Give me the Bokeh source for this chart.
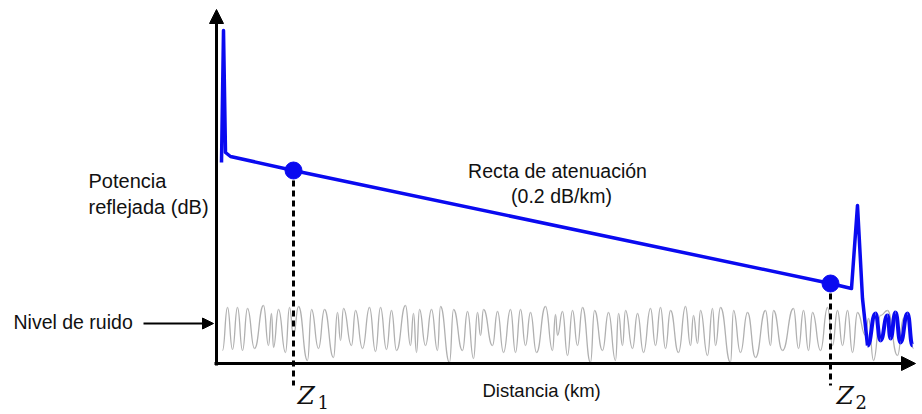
from bokeh.plotting import figure
from bokeh.models import Range1d, Label, Arrow, NormalHead, ColumnDataSource
from bokeh.embed import file_html
from bokeh.resources import INLINE

# ---- data (distance units along x, reflected power units along y) ----
trace_x = [5, 7, 9, 14, 77, 614, 635, 641, 646, 651]
trace_y = [201, 333, 211, 207, 193, 80, 75, 158, 65, 18]

tail_x = [651, 659, 664, 671, 674, 679, 684, 691, 696]
tail_y = [18, 50, 23, 48, 25, 51, 21, 50, 18]

points_x = [77, 614]
points_y = [193, 80]
point_names = ["Z1", "Z2"]

noise_x = [6, 11, 16, 21, 26, 31, 38, 47, 52, 55, 57, 62, 69, 73, 77, 82, 91, 95, 102, 108,
           117, 121, 124, 127, 135, 139, 146, 153, 159, 164, 170, 175, 180, 189, 194, 197, 200,
           203, 209, 215, 221, 224, 233, 237, 246, 251, 257, 261, 264, 267, 276, 281, 287, 294,
           299, 304, 309, 314, 320, 329, 336, 339, 341, 346, 351, 356, 361, 366, 374, 378, 386,
           392, 399, 402, 406, 409, 416, 421, 427, 434, 439, 444, 449, 454, 462, 469, 474, 477,
           481, 484, 491, 496, 499, 504, 514, 517, 524, 531, 539, 549, 554, 557, 566, 577, 582,
           587, 592, 596, 604, 611, 616, 621, 626, 631, 636, 641, 649, 652, 657, 664, 671, 681,
           687, 691, 697]
noise_y = [13, 56, 14, 56, 13, 55, 15, 58, 18, 50, 16, 54, 11, 56, 28, 57, 3, 54, 15, 54,
           6, 51, 23, 55, 18, 53, 15, 56, 12, 56, 14, 53, 13, 58, 18, 50, 11,
           54, 18, 54, 13, 57, 1, 54, 13, 52, 5, 51, 28, 54, 18, 52, 11, 54,
           11, 54, 18, 51, 11, 57, 13, 49, 28, 52, 8, 53, 18, 56, 1, 53, 13,
           51, 3, 50, 18, 53, 15, 50, 11, 55, 18, 56, 15, 53, 11, 57, 18, 48,
           20, 53, 8, 55, 18, 56, 1, 53, 11, 51, 6, 53, 18, 53, 13, 55, 15,
           53, 13, 51, 13, 56, 18, 53, 18, 53, 11, 51, 28, 45, 3, 48, 53, 8,
           45, 51, 15]

x_axis_end = 699
y_axis_end = 354
drop_to = -22

# ---- figure ----
p = figure(width=922, height=414, x_range=Range1d(-216, 706), y_range=Range1d(-51, 363),
           x_axis_type=None, y_axis_type=None, toolbar_location=None,
           output_backend="svg", min_border=0)
p.grid.visible = False
p.outline_line_color = None
p.background_fill_color = "white"
p.border_fill_color = "white"


def smooth(xs, ys, **kw):
    x0 = xs[:-1]; x1 = xs[1:]
    y0 = ys[:-1]; y1 = ys[1:]
    cxm = [(a + b) / 2 for a, b in zip(x0, x1)]
    p.bezier(x0=x0, y0=y0, x1=x1, y1=y1, cx0=cxm, cy0=y0, cx1=cxm, cy1=y1, **kw)


# noise
smooth(noise_x, noise_y, line_color="#b0b0b0", line_width=1.3)

# dashed drops
for px, py in zip(points_x, points_y):
    p.segment(x0=[px], y0=[py], x1=[px], y1=[drop_to], line_color="black",
              line_width=3, line_dash="6 4")

# trace
blue = "#0a0af0"
p.line(trace_x, trace_y, line_color=blue, line_width=3.5, line_join="round")
smooth(tail_x, tail_y, line_color=blue, line_width=4)
src = ColumnDataSource(dict(x=points_x, y=points_y, name=point_names))
p.scatter("x", "y", source=src, size=17, fill_color=blue, line_color=blue)

# axes with arrows
p.add_layout(Arrow(end=NormalHead(size=14, fill_color="black", line_color="black"),
                   x_start=0, y_start=-2, x_end=0, y_end=y_axis_end, line_width=3,
                   line_color="black"))
p.add_layout(Arrow(end=NormalHead(size=14, fill_color="black", line_color="black"),
                   x_start=-2, y_start=0, x_end=x_axis_end, y_end=0, line_width=3,
                   line_color="black"))
p.add_layout(Arrow(end=NormalHead(size=11, fill_color="black", line_color="black"),
                   x_start=-73, y_start=40, x_end=-3, y_end=40, line_width=2,
                   line_color="black"))

font = "Liberation Sans"
tc = "#111111"

def lab(x, y, t, align="left", size="19.5px", f=font, style="normal"):
    p.add_layout(Label(x=x, y=y, text=t, text_align=align, text_baseline="alphabetic",
                       text_font=f, text_font_size=size, text_color=tc,
                       text_font_style=style))

lab(-128, 183, "Potencia", size="20px")
lab(-128, 157, "reflejada (dB)", size="20px")
lab(-203, 42, "Nivel de ruido")
lab(341, 193, "Recta de atenuación", align="center")
lab(345, 168, "(0.2 dB/km)", align="center")
lab(266, -27, "Distancia (km)", size="18.5px")

lab(81, -32, "Z", size="25px", f="DejaVu Serif", style="italic")
lab(101, -38, "1", size="18px", f="DejaVu Serif")
lab(620, -32, "Z", size="25px", f="DejaVu Serif", style="italic")
lab(639, -38, "2", size="18px", f="DejaVu Serif")

open("out.html", "w").write(file_html(p, INLINE))
